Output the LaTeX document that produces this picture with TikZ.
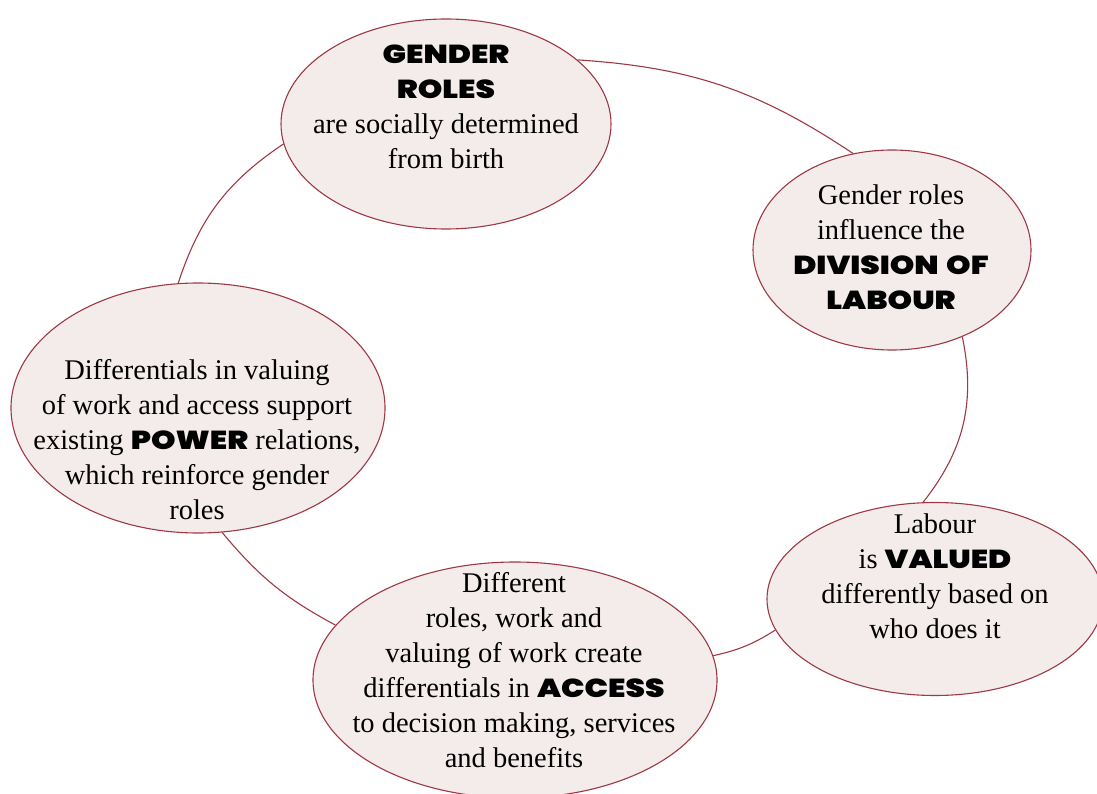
\documentclass[tikz,border=0pt]{standalone}
\usepackage{fontspec}
\setmainfont{Liberation Serif}
\newfontfamily\headfont{Poppins Black}[FakeStretch=1.2, WordSpace=1.4]
\usetikzlibrary{shapes.geometric}

\definecolor{rim}{HTML}{9E3844}
\definecolor{blush}{HTML}{F3ECEB}
\newcommand{\keyword}[1]{{\headfont\fontsize{26}{35}\selectfont #1}}

\begin{document}
\begin{tikzpicture}[x=1pt,y=-1pt,
    bubble/.style={ellipse, draw=rim, fill=blush, line width=1.1pt, inner sep=0pt},
    caption/.style={align=center, font=\fontsize{28.5}{35}\selectfont, inner sep=0pt},
    link/.style={draw=rim, line width=1.1pt}]
        \useasboundingbox (0,0) rectangle (1097,794);

        % the five bubbles
        \node[bubble, minimum width=330pt, minimum height=210pt] (roles) at (446,124) {};
        \node[bubble, minimum width=278pt, minimum height=200pt] (division) at (892,250) {};
        \node[bubble, minimum width=336pt, minimum height=193pt] (valued) at (935,599) {};
        \node[bubble, minimum width=404pt, minimum height=236pt] (access) at (515,680) {};
        \node[bubble, minimum width=374pt, minimum height=250pt] (power) at (198,408) {};

        \node[caption] (rolestext) at (446,107) {\keyword{GENDER}\\\keyword{ROLES}\\are socially determined\\from birth};
        \node[caption] (divisiontext) at (891,247) {Gender roles\\influence the\\\keyword{DIVISION OF}\\\keyword{LABOUR}};
        \node[caption] (valuedtext) at (935,576) {Labour\\is \keyword{VALUED}\\differently based on\\who does it};
        \node[caption] (accesstext) at (514,670) {Different\\roles, work and\\valuing of work create\\differentials in \keyword{ACCESS}\\to decision making, services\\and benefits};
        \node[caption] (powertext) at (197,440) {Differentials in valuing\\of work and access support\\existing \keyword{POWER} relations,\\which reinforce gender\\roles};

        % the cycle
        \draw[link] (roles.26) to[bend left=15] (division.112);
        \draw[link] (division.-51) to[bend left=25] (valued.97);
        \draw[link] (valued.191) to[bend left=10] (access.7);
        \draw[link] (access.163) to[bend left=11] (power.-79);
        \draw[link] (power.99) to[bend left=19] (roles.187);
\end{tikzpicture}
\end{document}
